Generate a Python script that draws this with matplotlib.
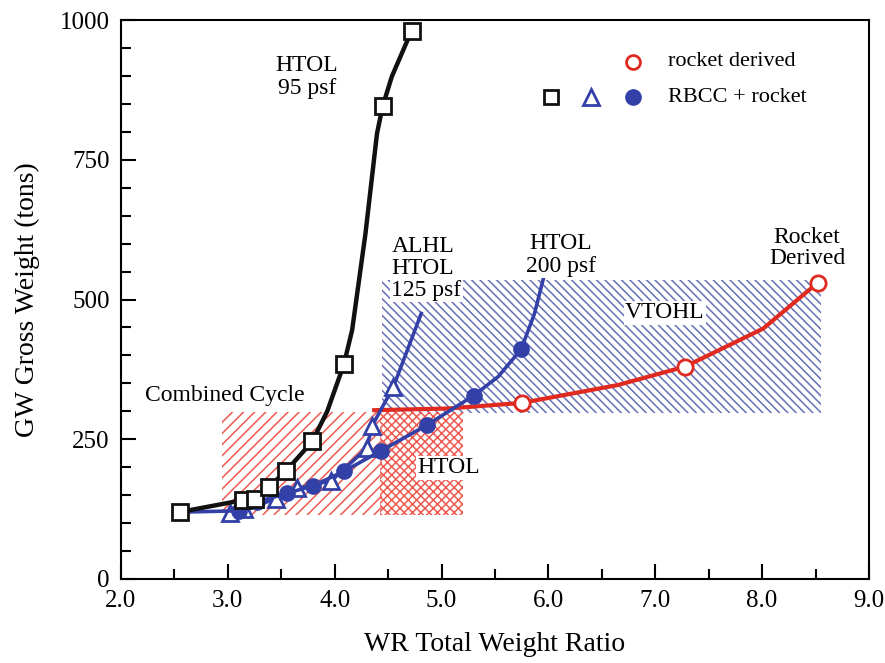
import matplotlib
matplotlib.use("Agg")
from matplotlib import pyplot as plt
from matplotlib.patches import Rectangle
from matplotlib.ticker import MultipleLocator, FormatStrFormatter

# HTOL 95 psf (squares), line points
htol95_x = [2.556, 3.139, 3.254, 3.381, 3.548, 3.79, 3.93, 4.086, 4.163, 4.288, 4.396, 4.449, 4.535, 4.72]
htol95_y = [120, 141, 144, 164, 194, 246, 300, 384, 445, 618, 797, 846, 899, 981]
htol95_marks = [0, 1, 2, 3, 4, 5, 7, 11, 13]

# ALHL HTOL 125 psf (triangles)
alhl_x = [3.02, 3.15, 3.45, 3.65, 3.97, 4.30, 4.35, 4.55, 4.81]
alhl_y = [118, 125, 143, 162, 176, 234, 274, 344, 475]
alhl_marks = [0, 1, 2, 3, 4, 5, 6, 7]

# HTOL 200 psf (filled circles)
htol200_x = [2.64, 3.10, 3.27, 3.55, 3.80, 4.09, 4.43, 4.86, 5.30, 5.53, 5.745, 5.87, 5.98]
htol200_y = [120, 122, 138, 153, 167, 193, 229, 275, 328, 362, 411, 475, 558]
htol200_marks = [1, 2, 3, 4, 5, 6, 7, 8, 10]

# Rocket derived (open circles)
rocket_x = [4.37, 5.06, 5.75, 6.65, 7.28, 8.01, 8.52]
rocket_y = [302, 305, 315, 347, 380, 448, 530]
rocket_marks = [2, 4, 6]

# hatched regions: (x0, x1, y0, y1)
vtohl_box = (4.44, 8.55, 297, 535)
cc_box = (2.947, 4.44, 115, 298)
htol_box = (4.42, 5.20, 115, 298)

black = "#111111"
blue = "#3340a8"
red = "#e02a20"
hatch_blue = "#6670b8"
hatch_red = "#ee5a50"


def main():
    plt.rcParams["font.family"] = ["Liberation Serif", "DejaVu Serif"]
    plt.rcParams["hatch.linewidth"] = 1.1

    fig = plt.figure(figsize=(8.85, 6.63), dpi=100)
    ax = fig.add_axes([0.1367, 0.1267, 0.8452, 0.8431])

    # hatched regions
    x0, x1, y0, y1 = vtohl_box
    ax.add_patch(Rectangle((x0, y0), x1 - x0, y1 - y0, fill=False, hatch="\\\\\\\\",
                           edgecolor=hatch_blue, linewidth=0, zorder=1))
    x0, x1, y0, y1 = cc_box
    ax.add_patch(Rectangle((x0, y0), x1 - x0, y1 - y0, fill=False, hatch="///",
                           edgecolor=hatch_red, linewidth=0, zorder=1))
    x0, x1, y0, y1 = htol_box
    ax.add_patch(Rectangle((x0, y0), x1 - x0, y1 - y0, fill=False, hatch="xxxx",
                           edgecolor=hatch_red, linewidth=0, zorder=1))

    # curves
    ax.plot(htol95_x, htol95_y, color=black, lw=3.2, marker="s", markevery=htol95_marks,
            ms=11, mfc="white", mec=black, mew=2, zorder=5)
    ax.plot(alhl_x, alhl_y, color=blue, lw=2.6, marker="^", markevery=alhl_marks,
            ms=11, mfc="white", mec=blue, mew=2, zorder=4)
    ax.plot(htol200_x, htol200_y, color=blue, lw=2.6, marker="o", markevery=htol200_marks,
            ms=11, mfc=blue, mec=blue, zorder=4)
    ax.plot(rocket_x, rocket_y, color=red, lw=3, marker="o", markevery=rocket_marks,
            ms=11, mfc="white", mec=red, mew=2, zorder=3)

    # labels on the plot
    box = dict(facecolor="white", edgecolor="none", pad=1)
    ax.text(3.74, 898, "HTOL\n95 psf", ha="center", va="center", fontsize=17, linespacing=1.1)
    ax.text(4.53, 556, "ALHL\nHTOL\n125 psf", ha="left", va="center", fontsize=17,
            linespacing=1.05, bbox=box, zorder=6)
    ax.text(6.115, 580, "HTOL\n200 psf", ha="center", va="center", fontsize=17,
            linespacing=1.1, bbox=box, zorder=6)
    ax.text(8.42, 592, "Rocket\nDerived", ha="center", va="center", fontsize=17,
            linespacing=1.05, zorder=6)
    ax.text(7.09, 476, "VTOHL", ha="center", va="center", fontsize=17, bbox=box, zorder=6)
    ax.text(2.97, 329, "Combined Cycle", ha="center", va="center", fontsize=17, zorder=6)
    ax.text(5.07, 199, "HTOL", ha="center", va="center", fontsize=17, bbox=box, zorder=6)

    # legend drawn by hand
    t = ax.transAxes
    ax.plot([0.684], [0.925], marker="o", ms=10, mfc="white", mec=red, mew=2, transform=t)
    ax.plot([0.575], [0.862], marker="s", ms=10, mfc="white", mec=black, mew=2, transform=t)
    ax.plot([0.628], [0.862], marker="^", ms=11, mfc="white", mec=blue, mew=2, transform=t)
    ax.plot([0.684], [0.862], marker="o", ms=11, mfc=blue, mec=blue, transform=t)
    ax.text(0.731, 0.925, "rocket derived", transform=t, va="center", fontsize=16)
    ax.text(0.731, 0.862, "RBCC + rocket", transform=t, va="center", fontsize=16)

    ax.set_xlim(2.0, 9.0)
    ax.set_ylim(0, 1000)
    ax.xaxis.set_major_locator(MultipleLocator(1.0))
    ax.xaxis.set_minor_locator(MultipleLocator(0.5))
    ax.xaxis.set_major_formatter(FormatStrFormatter("%.1f"))
    ax.yaxis.set_major_locator(MultipleLocator(250))
    ax.yaxis.set_minor_locator(MultipleLocator(50))
    ax.tick_params(which="both", direction="in", top=False, right=False, labelsize=18, width=1.5)
    ax.tick_params(which="major", length=11, pad=8)
    ax.tick_params(which="minor", length=7)
    for s in ax.spines.values():
        s.set_linewidth(1.5)

    ax.set_xlabel("WR Total Weight Ratio", fontsize=20, labelpad=14)
    ax.set_ylabel("GW Gross Weight (tons)", fontsize=20, labelpad=14)

    fig.savefig("out.png", dpi=100)


if __name__ == "__main__":
    main()
